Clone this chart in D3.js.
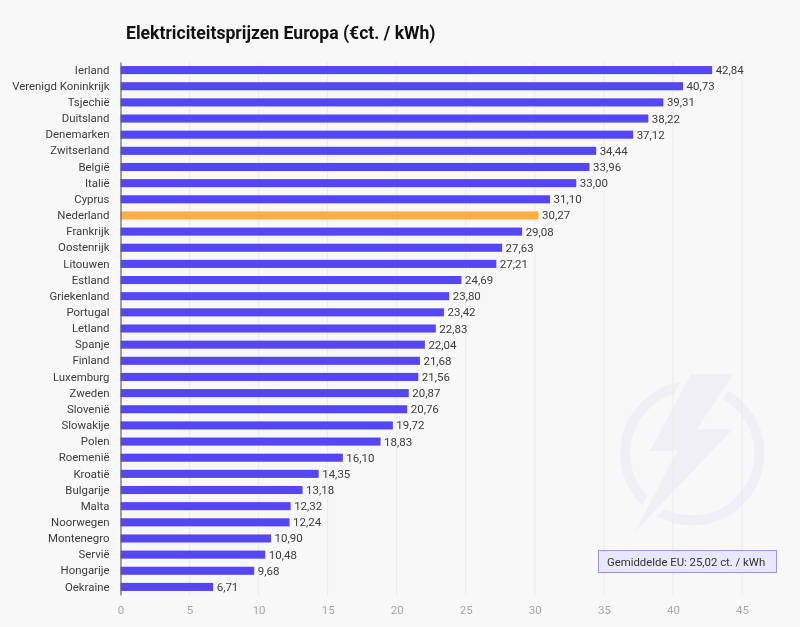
<!DOCTYPE html>
<html><head><meta charset="utf-8">
<script src="https://cdn.jsdelivr.net/npm/d3@7"></script>
<style>html,body{margin:0;padding:0;background:#f8f8f8}svg{display:block;font-family:Roboto,sans-serif;filter:blur(0.35px)}</style>
</head><body><svg id="c" width="800" height="627"></svg>
<script>
const categories=["Ierland","Verenigd Koninkrijk","Tsjechië","Duitsland","Denemarken","Zwitserland","België","Italië","Cyprus","Nederland","Frankrijk","Oostenrijk","Litouwen","Estland","Griekenland","Portugal","Letland","Spanje","Finland","Luxemburg","Zweden","Slovenië","Slowakije","Polen","Roemenië","Kroatië","Bulgarije","Malta","Noorwegen","Montenegro","Servië","Hongarije","Oekraine"];
const prices=[42.84,40.73,39.31,38.22,37.12,34.44,33.96,33.00,31.10,30.27,29.08,27.63,27.21,24.69,23.80,23.42,22.83,22.04,21.68,21.56,20.87,20.76,19.72,18.83,16.10,14.35,13.18,12.32,12.24,10.90,10.48,9.68,6.71];
const highlighted=["Nederland"];
const xTicks=[0,5,10,15,20,25,30,35,40,45];
const titleText="Elektriciteitsprijzen Europa (€ct. / kWh)";
const noteText="Gemiddelde EU: 25,02 ct. / kWh";

const svg=d3.select("#c");
const fmt=v=>v.toFixed(2).replace(".",",");
const x=d3.scaleLinear().domain([0,45]).range([120.5,742]);
const y=d3.scaleBand().domain(categories).range([62,595]).paddingInner(0.5).paddingOuter(0.25);

// watermark logo
const logo=svg.append("g").attr("transform","translate(600,370) scale(0.3333)");
logo.append("circle").attr("cx",277).attr("cy",250).attr("r",201).attr("fill","none").attr("stroke","#efeff5").attr("stroke-width",30);
const bolt="273,12 400,12 290,178 398,178 105,485 232,243 150,243";
logo.append("polygon").attr("points",bolt).attr("fill","#efeff5").attr("stroke","#f8f8f8").attr("stroke-width",34).attr("paint-order","stroke").attr("stroke-linejoin","miter");

// grid
svg.append("g").selectAll("line").data(xTicks.slice(1)).join("line")
 .attr("x1",d=>x(d)).attr("x2",d=>x(d)).attr("y1",62).attr("y2",595)
 .attr("stroke","#ebebeb").attr("stroke-width",1);

// bars
svg.append("g").selectAll("rect").data(prices).join("rect")
 .attr("x",x(0)).attr("y",(d,i)=>y(categories[i]))
 .attr("width",d=>x(d)-x(0)).attr("height",y.bandwidth())
 .attr("fill",(d,i)=>highlighted.includes(categories[i])?"#ffae42":"#5546f5");

// value labels
svg.append("g").selectAll("text").data(prices).join("text")
 .attr("x",d=>x(d)+3.5).attr("y",(d,i)=>y(categories[i])+y.bandwidth()/2).attr("dy","0.35em")
 .attr("font-size",11.5).attr("fill","#3c3c3c").text(fmt);

// y axis
const ay=svg.append("g").attr("transform",`translate(${x(0)},0)`).call(d3.axisLeft(y).tickSize(0).tickPadding(11));
ay.select(".domain").attr("stroke","#666").attr("stroke-width",1.2);
ay.selectAll("text").attr("font-size",11.4).attr("fill","#3c3c3c").attr("font-family","Roboto");

// x axis
const ax=svg.append("g").attr("transform","translate(0,595)").call(d3.axisBottom(x).tickValues(xTicks).tickSize(0).tickPadding(11).tickFormat(d3.format("d")));
ax.select(".domain").remove();
ax.selectAll("text").attr("font-size",11.5).attr("fill","#a8a8a8").attr("font-family","Roboto");

// title
svg.append("text").attr("x",126).attr("y",39).attr("font-size",17.6).attr("font-weight",700).attr("fill","#111").text(titleText);

// note
svg.append("rect").attr("x",598.5).attr("y",550.5).attr("width",178).attr("height",22).attr("fill","#e9e7fb").attr("stroke","#9d94f7").attr("stroke-width",1);
svg.append("text").attr("x",607).attr("y",565.5).attr("font-size",11.35).attr("fill","#333").text(noteText);
</script></body></html>
